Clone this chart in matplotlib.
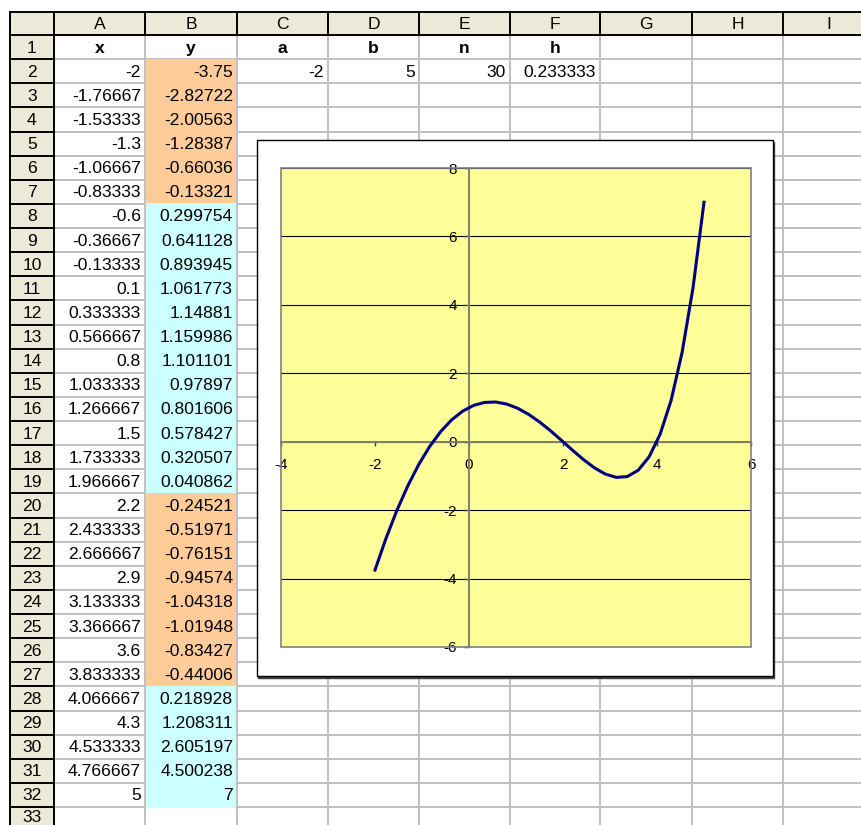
import matplotlib
matplotlib.use('Agg')
import matplotlib.pyplot as plt
from matplotlib.patches import Rectangle

plt.rcParams['font.family'] = ['Liberation Sans', 'DejaVu Sans']
plt.rcParams['axes.unicode_minus'] = False

# sheet contents
col_names = ['A', 'B', 'C', 'D', 'E', 'F', 'G', 'H', 'I']
row1_labels = ['x', 'y', 'a', 'b', 'n', 'h']
row2_params = ['-2', '5', '30', '0.233333']   # a, b, n, h in C2:F2

x_text = ['-2', '-1.76667', '-1.53333', '-1.3', '-1.06667', '-0.83333', '-0.6',
          '-0.36667', '-0.13333', '0.1', '0.333333', '0.566667', '0.8', '1.033333',
          '1.266667', '1.5', '1.733333', '1.966667', '2.2', '2.433333', '2.666667',
          '2.9', '3.133333', '3.366667', '3.6', '3.833333', '4.066667', '4.3',
          '4.533333', '4.766667', '5']
y_text = ['-3.75', '-2.82722', '-2.00563', '-1.28387', '-0.66036', '-0.13321',
          '0.299754', '0.641128', '0.893945', '1.061773', '1.14881', '1.159986',
          '1.101101', '0.97897', '0.801606', '0.578427', '0.320507', '0.040862',
          '-0.24521', '-0.51971', '-0.76151', '-0.94574', '-1.04318', '-1.01948',
          '-0.83427', '-0.44006', '0.218928', '1.208311', '2.605197', '4.500238', '7']

x_vals = [float(v) for v in x_text]
y_vals = [float(v) for v in y_text]

# layout in pixels
W, H = 862, 825
col_edges = [10, 54, 145, 237, 328, 419, 510, 600, 692, 783, 874]
head_top, head_bot = 12, 35
row_h = 24.125
n_rows = 33

beige = '#ECE9D8'
grid_gray = '#C0C0C0'
neg_fill = '#FFCC99'
pos_fill = '#CCFFFF'
fs = 12.6
chart_fs = 11

fig = plt.figure(figsize=(W / 100, H / 100), dpi=100)
bg = fig.add_axes([0, 0, 1, 1])
bg.set_xlim(0, W)
bg.set_ylim(H, 0)
bg.axis('off')


def row_top(r):
    return head_bot + (r - 1) * row_h


# header backgrounds
bg.add_patch(Rectangle((10, head_top), W - 10, head_bot - head_top, color=beige, zorder=1))
bg.add_patch(Rectangle((10, head_bot), 44, H - head_bot, color=beige, zorder=1))

# cell gridlines
for x in col_edges[2:]:
    bg.plot([x, x], [head_bot, H], color=grid_gray, lw=1.4, zorder=2)
for r in range(1, n_rows + 1):
    y = row_top(r) + row_h
    bg.plot([54, W], [y, y], color=grid_gray, lw=1.4, zorder=2)

# conditional fill in column B
for i, v in enumerate(y_vals):
    top = row_top(i + 2)
    c = neg_fill if v < 0 else pos_fill
    bg.add_patch(Rectangle((col_edges[2] + 1, top - 0.5), col_edges[3] - col_edges[2] - 2,
                           row_h + 1, color=c, lw=0, zorder=3))

# header borders
for x in col_edges:
    bg.plot([x, x], [head_top, head_bot], color='black', lw=1.4, zorder=4)
bg.plot([10, W], [head_top, head_top], color='black', lw=1.4, zorder=4)
bg.plot([10, W], [head_bot, head_bot], color='black', lw=1.4, zorder=4)
bg.plot([10, 10], [head_top, H], color='black', lw=1.4, zorder=4)
bg.plot([54, 54], [head_top, H], color='black', lw=1.4, zorder=4)
for r in range(1, n_rows + 1):
    y = row_top(r) + row_h
    bg.plot([10, 54], [y, y], color='black', lw=1.4, zorder=4)

# header text
for j, name in enumerate(col_names):
    cx = (col_edges[j + 1] + col_edges[j + 2]) / 2
    bg.text(cx, (head_top + head_bot) / 2 + 1, name, ha='center', va='center',
            fontsize=fs, zorder=5)
for r in range(1, n_rows + 1):
    yc = min(row_top(r) + row_h / 2 + 1, H - 8)
    bg.text(32, yc, str(r), ha='center', va='center', fontsize=fs, zorder=5)

# row 1 labels
for j, lab in enumerate(row1_labels):
    cx = (col_edges[j + 1] + col_edges[j + 2]) / 2
    bg.text(cx, row_top(1) + row_h / 2 + 1, lab, ha='center', va='center',
            fontsize=fs, fontweight='bold', zorder=5)

# row 2 parameters (C..F)
for j, val in enumerate(row2_params):
    right = col_edges[j + 4] - 4
    bg.text(right, row_top(2) + row_h / 2 + 1, val, ha='right', va='center',
            fontsize=fs, zorder=5)

# x and y columns
for i in range(len(x_text)):
    yc = row_top(i + 2) + row_h / 2 + 1
    bg.text(col_edges[2] - 4, yc, x_text[i], ha='right', va='center', fontsize=fs, zorder=5)
    bg.text(col_edges[3] - 4, yc, y_text[i], ha='right', va='center', fontsize=fs, zorder=5)

# chart frame
bx, by, bw, bh = 257, 140, 516, 536
bg.add_patch(Rectangle((bx + 1.5, by + 1.5), bw, bh, color='#404040', zorder=6))
bg.add_patch(Rectangle((bx, by), bw, bh, facecolor='white', edgecolor='black',
                       lw=1.0, zorder=7))

# plot area
px0, px1, py0, py1 = 281, 751, 168, 647
ax = fig.add_axes([px0 / W, (H - py1) / H, (px1 - px0) / W, (py1 - py0) / H])
ax.set_facecolor('#FFFF99')
ax.set_xlim(-4, 6)
ax.set_ylim(-6, 8)
ax.set_xticks(range(-4, 7, 2))
ax.set_yticks(range(-6, 9, 2))
ax.yaxis.grid(True, color='black', lw=0.8)
ax.set_axisbelow(True)

for s in ['top', 'right']:
    ax.spines[s].set_visible(False)
ax.spines['left'].set_position(('data', 0))
ax.spines['bottom'].set_position(('data', 0))
for s in ['left', 'bottom']:
    ax.spines[s].set_color('#808070')
    ax.spines[s].set_linewidth(1.4)
    ax.spines[s].set_zorder(3)
ax.tick_params(axis='y', direction='out', length=3.5, width=1, color='#404040',
               pad=5, labelsize=chart_fs)
ax.tick_params(axis='x', direction='out', length=3, width=1, color='#404040',
               pad=9, labelsize=chart_fs)
ax.add_patch(Rectangle((0, 0), 1, 1, transform=ax.transAxes, fill=False,
                       edgecolor='#808080', lw=1.2, clip_on=False, zorder=4))

ax.plot(x_vals, y_vals, color='#000080', lw=2.2, zorder=5, solid_joinstyle='round')

fig.savefig('out.png', dpi=100)
